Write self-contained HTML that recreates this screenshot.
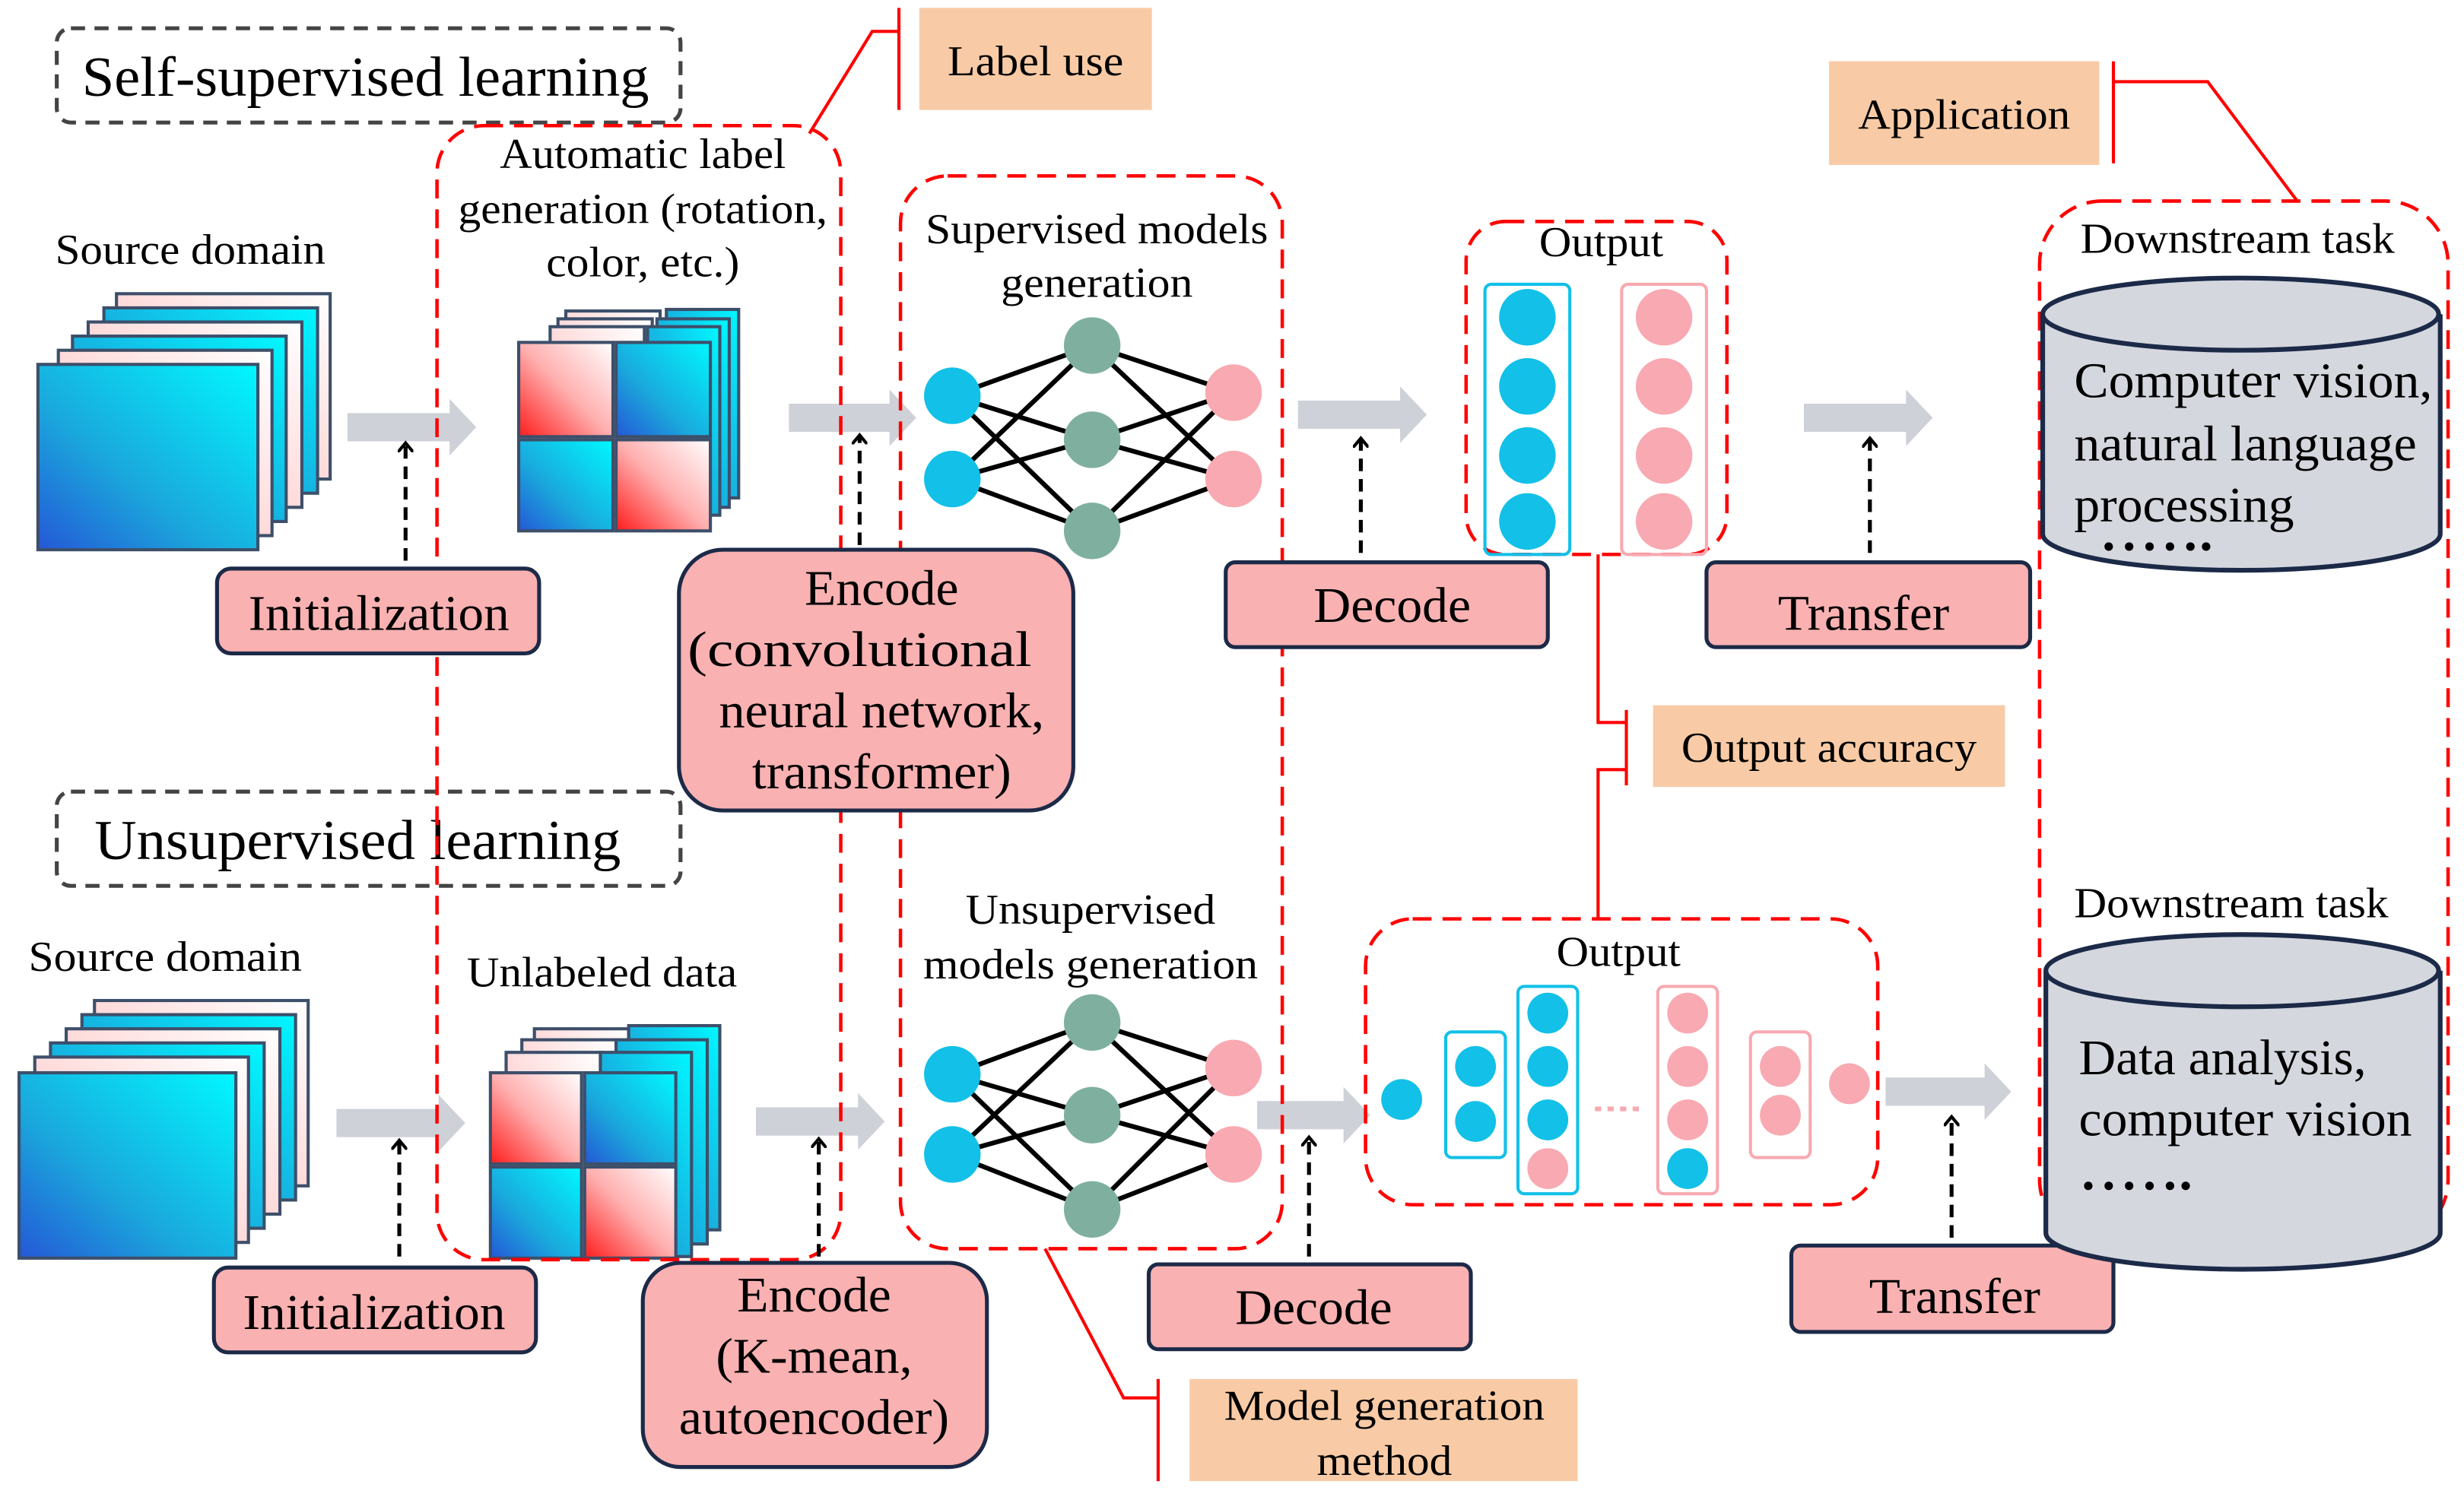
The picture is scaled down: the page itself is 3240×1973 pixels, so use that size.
<!DOCTYPE html>
<html><head><meta charset="utf-8"><style>html,body{margin:0;padding:0;background:#fff}svg{display:block}text{font-family:"Liberation Serif",serif;fill:#000}</style></head><body>
<svg width="3240" height="1973" viewBox="0 0 1568 955" xmlns="http://www.w3.org/2000/svg">
<defs>
<linearGradient id="gb" x1="0" y1="1" x2="1" y2="0"><stop offset="0" stop-color="#2458d6"/><stop offset="0.4" stop-color="#1aa8dc"/><stop offset="1" stop-color="#00f8ff"/></linearGradient>
<linearGradient id="gp" x1="0" y1="1" x2="1" y2="0"><stop offset="0" stop-color="#ff1c1c"/><stop offset="0.5" stop-color="#ffb0b0"/><stop offset="1" stop-color="#ffffff"/></linearGradient>
<linearGradient id="gpl" x1="0" y1="1" x2="1" y2="0"><stop offset="0" stop-color="#ffb8b8"/><stop offset="1" stop-color="#ffffff"/></linearGradient>
<marker id="ah" markerWidth="10" markerHeight="10" refX="5" refY="5" orient="auto" markerUnits="userSpaceOnUse"><path d="M0,0 L6,5 L0,10" fill="none" stroke="#000" stroke-width="2"/></marker>
</defs>
<g stroke="#3d4f6a" stroke-width="2">
<rect x="74" y="187" width="136" height="118" fill="url(#gpl)"/>
<rect x="66" y="196" width="136" height="118" fill="url(#gb)"/>
<rect x="56" y="205" width="136" height="118" fill="url(#gpl)"/>
<rect x="46" y="214" width="136" height="118" fill="url(#gb)"/>
<rect x="37" y="223" width="136" height="118" fill="url(#gpl)"/>
<rect x="24" y="232" width="140" height="118" fill="url(#gb)"/>
<rect x="60" y="637" width="136" height="118" fill="url(#gpl)"/>
<rect x="52" y="646" width="136" height="118" fill="url(#gb)"/>
<rect x="42" y="655" width="136" height="118" fill="url(#gpl)"/>
<rect x="32" y="664" width="136" height="118" fill="url(#gb)"/>
<rect x="22" y="673" width="136" height="118" fill="url(#gpl)"/>
<rect x="12" y="683" width="138" height="118" fill="url(#gb)"/>
<rect x="360" y="198" width="60" height="120" fill="url(#gpl)"/>
<rect x="355" y="203" width="60" height="120" fill="url(#gpl)"/>
<rect x="350" y="208" width="60" height="120" fill="url(#gpl)"/>
<rect x="424" y="197" width="46" height="120" fill="url(#gb)"/>
<rect x="418" y="203" width="46" height="120" fill="url(#gb)"/>
<rect x="412" y="208" width="46" height="120" fill="url(#gb)"/>
<rect x="330" y="218" width="60" height="60" fill="url(#gp)"/>
<rect x="392" y="218" width="60" height="60" fill="url(#gb)"/>
<rect x="330" y="280" width="60" height="58" fill="url(#gb)"/>
<rect x="392" y="280" width="60" height="58" fill="url(#gp)"/>
<rect x="340" y="655" width="60" height="130" fill="url(#gpl)"/>
<rect x="332" y="662" width="60" height="130" fill="url(#gpl)"/>
<rect x="322" y="670" width="60" height="130" fill="url(#gpl)"/>
<rect x="400" y="653" width="58" height="130" fill="url(#gb)"/>
<rect x="392" y="662" width="58" height="130" fill="url(#gb)"/>
<rect x="382" y="670" width="58" height="130" fill="url(#gb)"/>
<rect x="312" y="683" width="58" height="58" fill="url(#gp)"/>
<rect x="372" y="683" width="58" height="58" fill="url(#gb)"/>
<rect x="312" y="743" width="58" height="58" fill="url(#gb)"/>
<rect x="372" y="743" width="58" height="58" fill="url(#gp)"/>
</g>
<g fill="#ced1d8">
<path d="M221,263 H286 V254 L303,272 L286,290 V281 H221Z"/>
<path d="M502,257 H566 V248 L583,266 L566,284 V275 H502Z"/>
<path d="M826,255 H891 V246 L908,264 L891,282 V273 H826Z"/>
<path d="M1148,257 H1213 V248 L1230,266 L1213,284 V275 H1148Z"/>
<path d="M214,706 H279 V697 L296,715 L279,733 V724 H214Z"/>
<path d="M481,705 H546 V696 L563,714 L546,732 V723 H481Z"/>
<path d="M800,701 H855 V692 L872,710 L855,728 V719 H800Z"/>
<path d="M1200,686 H1263 V677 L1280,695 L1263,713 V704 H1200Z"/>
</g>
<g fill="none" stroke="#444" stroke-width="2.5" stroke-dasharray="9,6">
<rect x="36" y="18" width="397" height="60" rx="9"/>
<rect x="36" y="504" width="397" height="60" rx="9"/>
</g>
<text x="52" y="61" font-size="36" textLength="361" lengthAdjust="spacingAndGlyphs">Self-supervised learning</text>
<text x="60" y="547" font-size="36" textLength="335" lengthAdjust="spacingAndGlyphs">Unsupervised learning</text>
<g fill="none" stroke="#f00" stroke-width="2.2" stroke-dasharray="12,7">
<rect x="278" y="80" width="257" height="722" rx="30"/>
<rect x="573" y="112" width="243" height="683" rx="30"/>
<rect x="933" y="141" width="166" height="212" rx="25"/>
<rect x="869" y="585" width="326" height="182" rx="30"/>
<rect x="1298" y="128" width="260" height="663" rx="40"/>
</g>
<g fill="none" stroke="#f00" stroke-width="2">
<path d="M572,5 V70 M572,20 H555 L515,85"/>
<path d="M1345,39 V104 M1345,52 H1405 L1462,128"/>
<path d="M737,878 V943 M737,890 H715 L665,795"/>
<path d="M1017,353 V460 H1035 M1035,452 V500 M1035,490 H1017 V585"/>
</g>
<g fill="#f8cba6">
<rect x="585" y="5" width="148" height="65"/>
<rect x="1164" y="39" width="172" height="66"/>
<rect x="1052" y="449" width="224" height="52"/>
<rect x="757" y="878" width="247" height="65"/>
</g>
<g font-size="27" text-anchor="middle" lengthAdjust="spacingAndGlyphs">
<text x="659" y="48" textLength="112" lengthAdjust="spacingAndGlyphs">Label use</text>
<text x="1250" y="82" textLength="135" lengthAdjust="spacingAndGlyphs">Application</text>
<text x="1164" y="485" textLength="188" lengthAdjust="spacingAndGlyphs">Output accuracy</text>
<text x="881" y="904" textLength="204" lengthAdjust="spacingAndGlyphs">Model generation</text>
<text x="881" y="939" textLength="86" lengthAdjust="spacingAndGlyphs">method</text>
</g>
<g font-size="27" text-anchor="middle">
<text x="121" y="168" textLength="172" lengthAdjust="spacingAndGlyphs">Source domain</text>
<text x="105" y="618" textLength="174" lengthAdjust="spacingAndGlyphs">Source domain</text>
<text x="383" y="628" textLength="172" lengthAdjust="spacingAndGlyphs">Unlabeled data</text>
<text x="409" y="107" textLength="182" lengthAdjust="spacingAndGlyphs">Automatic label</text>
<text x="409" y="142" textLength="235" lengthAdjust="spacingAndGlyphs">generation (rotation,</text>
<text x="409" y="176" textLength="123" lengthAdjust="spacingAndGlyphs">color, etc.)</text>
<text x="698" y="155" textLength="218" lengthAdjust="spacingAndGlyphs">Supervised models</text>
<text x="698" y="189" textLength="122" lengthAdjust="spacingAndGlyphs">generation</text>
<text x="694" y="588" textLength="159" lengthAdjust="spacingAndGlyphs">Unsupervised</text>
<text x="694" y="623" textLength="213" lengthAdjust="spacingAndGlyphs">models generation</text>
<text x="1019" y="163" textLength="79" lengthAdjust="spacingAndGlyphs">Output</text>
<text x="1030" y="615" textLength="79" lengthAdjust="spacingAndGlyphs">Output</text>
<text x="1424" y="161" textLength="200" lengthAdjust="spacingAndGlyphs">Downstream task</text>
<text x="1420" y="584" textLength="200" lengthAdjust="spacingAndGlyphs">Downstream task</text>
</g>
<g fill="#f9b1b1" stroke="#1c2a48" stroke-width="2.5">
<rect x="138" y="362" width="205" height="54" rx="9"/>
<rect x="136" y="807" width="205" height="54" rx="9"/>
<rect x="780" y="358" width="205" height="54" rx="6"/>
<rect x="731" y="805" width="205" height="54" rx="6"/>
<rect x="1086" y="358" width="206" height="54" rx="6"/>
<rect x="1140" y="793" width="205" height="55" rx="6"/>
<rect x="432" y="350" width="251" height="166" rx="28"/>
<rect x="409" y="804" width="219" height="130" rx="24"/>
</g>
<g font-size="32" text-anchor="middle">
<text x="241" y="401" textLength="166" lengthAdjust="spacingAndGlyphs">Initialization</text>
<text x="238" y="846" textLength="167" lengthAdjust="spacingAndGlyphs">Initialization</text>
<text x="886" y="396" textLength="100" lengthAdjust="spacingAndGlyphs">Decode</text>
<text x="836" y="843" textLength="100" lengthAdjust="spacingAndGlyphs">Decode</text>
<text x="1186" y="401" textLength="109" lengthAdjust="spacingAndGlyphs">Transfer</text>
<text x="1244" y="836" textLength="109" lengthAdjust="spacingAndGlyphs">Transfer</text>
<text x="561" y="385" textLength="98" lengthAdjust="spacingAndGlyphs">Encode</text>
<text x="547" y="424" textLength="219" lengthAdjust="spacingAndGlyphs">(convolutional</text>
<text x="561" y="463" textLength="207" lengthAdjust="spacingAndGlyphs">neural network,</text>
<text x="561" y="502" textLength="165" lengthAdjust="spacingAndGlyphs">transformer)</text>
<text x="518" y="835" textLength="98" lengthAdjust="spacingAndGlyphs">Encode</text>
<text x="518" y="874" textLength="125" lengthAdjust="spacingAndGlyphs">(K-mean,</text>
<text x="518" y="913" textLength="172" lengthAdjust="spacingAndGlyphs">autoencoder)</text>
</g>
<g stroke="#000" stroke-width="2.5" stroke-dasharray="8,5" fill="none" marker-end="url(#ah)">
<path d="M258,357 V283"/><path d="M547,347 V278"/><path d="M866,352 V280"/><path d="M1190,352 V280"/>
<path d="M254,800 V727"/><path d="M521,800 V726"/><path d="M833,800 V725"/><path d="M1242,788 V712"/>
</g>
<g stroke="#000" stroke-width="3">
<path d="M606,252 L695,220 M606,252 L695,280 M606,252 L695,338 M606,305 L695,220 M606,305 L695,280 M606,305 L695,338 M695,220 L785,250 M695,280 L785,250 M695,338 L785,250 M695,220 L785,305 M695,280 L785,305 M695,338 L785,305"/>
<path d="M606,684 L695,651 M606,684 L695,710 M606,684 L695,770 M606,735 L695,651 M606,735 L695,710 M606,735 L695,770 M695,651 L785,680 M695,710 L785,680 M695,770 L785,680 M695,651 L785,735 M695,710 L785,735 M695,770 L785,735"/>
</g>
<g fill="#12c0e8"><circle cx="606" cy="252" r="18"/><circle cx="606" cy="305" r="18"/><circle cx="606" cy="684" r="18"/><circle cx="606" cy="735" r="18"/></g>
<g fill="#7fb09f"><circle cx="695" cy="220" r="18"/><circle cx="695" cy="280" r="18"/><circle cx="695" cy="338" r="18"/><circle cx="695" cy="651" r="18"/><circle cx="695" cy="710" r="18"/><circle cx="695" cy="770" r="18"/></g>
<g fill="#f8a9b1"><circle cx="785" cy="250" r="18"/><circle cx="785" cy="305" r="18"/><circle cx="785" cy="680" r="18"/><circle cx="785" cy="735" r="18"/></g>
<rect x="945" y="181" width="54" height="172" rx="4" fill="none" stroke="#12c0e8" stroke-width="2"/>
<rect x="1032" y="181" width="54" height="172" rx="4" fill="none" stroke="#f8a9b1" stroke-width="2"/>
<g fill="#12c0e8"><circle cx="972" cy="202" r="18"/><circle cx="972" cy="246" r="18"/><circle cx="972" cy="290" r="18"/><circle cx="972" cy="332" r="18"/></g>
<g fill="#f8a9b1"><circle cx="1059" cy="202" r="18"/><circle cx="1059" cy="246" r="18"/><circle cx="1059" cy="290" r="18"/><circle cx="1059" cy="332" r="18"/></g>
<g fill="none" stroke-width="2">
<rect x="920" y="657" width="38" height="80" rx="4" stroke="#12c0e8"/>
<rect x="966" y="628" width="38" height="132" rx="4" stroke="#12c0e8"/>
<rect x="1055" y="628" width="38" height="132" rx="4" stroke="#f8a9b1"/>
<rect x="1114" y="657" width="38" height="80" rx="4" stroke="#f8a9b1"/>
</g>
<path d="M1015,706 H1047" stroke="#f8a9b1" stroke-width="3" stroke-dasharray="4,4"/>
<g fill="#12c0e8"><circle cx="892" cy="700" r="13"/><circle cx="939" cy="679" r="13"/><circle cx="939" cy="714" r="13"/><circle cx="985" cy="645" r="13"/><circle cx="985" cy="679" r="13"/><circle cx="985" cy="713" r="13"/><circle cx="1074" cy="744" r="13"/></g>
<g fill="#f8a9b1"><circle cx="985" cy="744" r="13"/><circle cx="1074" cy="645" r="13"/><circle cx="1074" cy="679" r="13"/><circle cx="1074" cy="713" r="13"/><circle cx="1133" cy="679" r="13"/><circle cx="1133" cy="710" r="13"/><circle cx="1177" cy="690" r="13"/></g>
<g fill="#d4d7de" stroke="#1c2a48" stroke-width="3">
<path d="M1300,200 V340 A126,23 0 0 0 1553,340 V200"/>
<ellipse cx="1426" cy="200" rx="126" ry="23"/>
<path d="M1302,618 V785 A125,23 0 0 0 1553,785 V618"/>
<ellipse cx="1427" cy="618" rx="125" ry="23"/>
</g>
<g font-size="32">
<text x="1320" y="253" textLength="228" lengthAdjust="spacingAndGlyphs">Computer vision,</text>
<text x="1320" y="293" textLength="218" lengthAdjust="spacingAndGlyphs">natural language</text>
<text x="1320" y="332" textLength="140" lengthAdjust="spacingAndGlyphs">processing</text>
<text x="1323" y="684" textLength="183" lengthAdjust="spacingAndGlyphs">Data analysis,</text>
<text x="1323" y="723" textLength="212" lengthAdjust="spacingAndGlyphs">computer vision</text>
</g>
<g fill="#000">
<circle cx="1342" cy="348" r="2.7"/><circle cx="1355" cy="348" r="2.7"/><circle cx="1368" cy="348" r="2.7"/><circle cx="1381" cy="348" r="2.7"/><circle cx="1394" cy="348" r="2.7"/><circle cx="1404" cy="348" r="2.7"/>
<circle cx="1329" cy="755" r="2.7"/><circle cx="1342" cy="755" r="2.7"/><circle cx="1355" cy="755" r="2.7"/><circle cx="1368" cy="755" r="2.7"/><circle cx="1381" cy="755" r="2.7"/><circle cx="1391" cy="755" r="2.7"/>
</g>
</svg>
</body></html>
